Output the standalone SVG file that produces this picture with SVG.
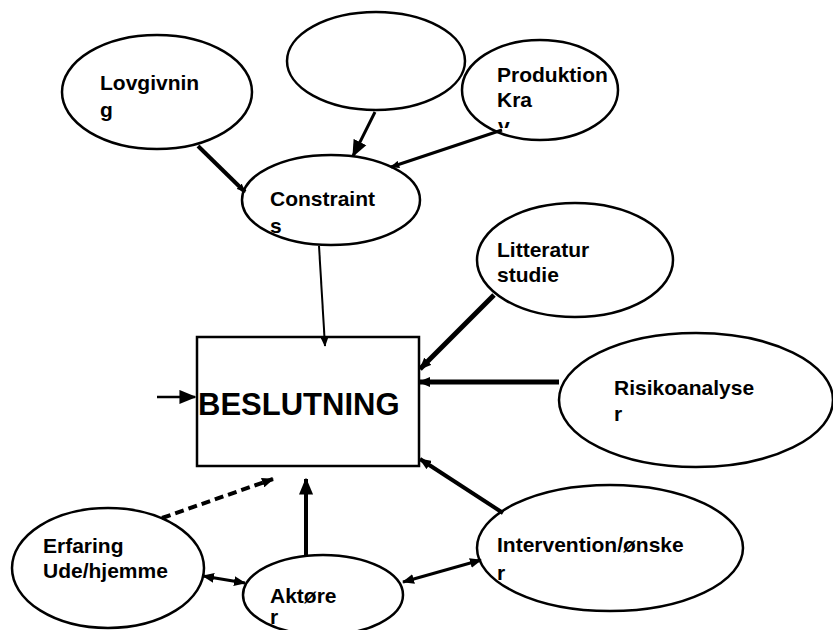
<svg xmlns="http://www.w3.org/2000/svg" width="833" height="630" viewBox="0 0 833 630">
  <style>
    .node { fill: #ffffff; stroke: #000000; stroke-width: 2.5; }
    .lbl { font-family: "Liberation Sans", Arial, sans-serif; font-weight: bold; font-size: 21px; fill: #000000; }
    .big { font-family: "Liberation Sans", Arial, sans-serif; font-weight: bold; font-size: 31px; fill: #000000; }
    .edge { stroke: #000000; fill: none; stroke-linecap: butt; }
  </style>
  <defs>
    <marker id="ah" markerUnits="userSpaceOnUse" viewBox="0 0 12 10" refX="11" refY="5" markerWidth="12" markerHeight="10" orient="auto-start-reverse">
      <path d="M0,0 L12,5 L0,10 z" fill="#000"/>
    </marker>
    <marker id="ahS" markerUnits="userSpaceOnUse" viewBox="0 0 12 10" refX="11" refY="5" markerWidth="9" markerHeight="8" orient="auto-start-reverse">
      <path d="M0,0 L12,5 L0,10 z" fill="#000"/>
    </marker>
    <marker id="ahL" markerUnits="userSpaceOnUse" viewBox="0 0 12 10" refX="11" refY="5" markerWidth="17" markerHeight="15" orient="auto-start-reverse">
      <path d="M0,0 L12,5 L0,10 z" fill="#000"/>
    </marker>
    <clipPath id="clipKrav"><rect x="480" y="60" width="140" height="68"/></clipPath>
  </defs>

  <!-- nodes -->
  <g id="lovgivning">
    <ellipse class="node" cx="157" cy="92" rx="95" ry="57"/>
    <text class="lbl" x="100" y="90">Lovgivnin</text>
    <text class="lbl" x="100" y="117">g</text>
  </g>
  <g id="blank">
    <ellipse class="node" cx="376" cy="61" rx="89" ry="49"/>
  </g>
  <g id="produktion">
    <ellipse class="node" cx="540" cy="90" rx="78" ry="50"/>
    <g clip-path="url(#clipKrav)">
      <text class="lbl" x="497" y="82">Produktion</text>
      <text class="lbl" x="497" y="107">Kra</text>
      <text class="lbl" x="498" y="133">v</text>
    </g>
  </g>
  <g id="constraints">
    <ellipse class="node" cx="331" cy="200" rx="89" ry="45"/>
    <text class="lbl" x="270" y="206">Constraint</text>
    <text class="lbl" x="270" y="233">s</text>
  </g>
  <g id="litteratur">
    <ellipse class="node" cx="575" cy="260" rx="98" ry="57"/>
    <text class="lbl" x="497" y="257">Litteratur</text>
    <text class="lbl" x="497" y="282">studie</text>
  </g>
  <g id="risiko">
    <ellipse class="node" cx="696" cy="400" rx="137" ry="67"/>
    <text class="lbl" x="614" y="395">Risikoanalyse</text>
    <text class="lbl" x="614" y="421">r</text>
  </g>
  <g id="beslutning">
    <rect x="197" y="337" width="222" height="129" fill="#fff" stroke="#000" stroke-width="2.5"/>
    <text class="big" x="198" y="415">BESLUTNING</text>
  </g>
  <g id="erfaring">
    <ellipse class="node" cx="108" cy="568" rx="96" ry="60"/>
    <text class="lbl" x="43" y="553">Erfaring</text>
    <text class="lbl" x="43" y="578">Ude/hjemme</text>
  </g>
  <g id="aktorer">
    <ellipse class="node" cx="323" cy="595" rx="80" ry="40"/>
    <text class="lbl" x="270" y="603">Aktøre</text>
    <text class="lbl" x="270" y="624">r</text>
  </g>
  <g id="intervention">
    <ellipse class="node" cx="610" cy="548" rx="133" ry="63"/>
    <text class="lbl" x="497" y="552">Intervention/ønske</text>
    <text class="lbl" x="497" y="580">r</text>
  </g>

  <!-- connectors -->
  <g id="connectors" class="edge">
    <line class="edge" x1="198" y1="146" x2="245" y2="192" stroke-width="4" marker-end="url(#ahS)"/>
    <line class="edge" x1="375" y1="112" x2="353" y2="156" stroke-width="3" marker-end="url(#ahL)"/>
    <line class="edge" x1="502" y1="130" x2="391" y2="167" stroke-width="3" marker-end="url(#ahS)"/>
    <line class="edge" x1="319" y1="246" x2="325" y2="346" stroke-width="2" marker-end="url(#ahS)"/>
    <line class="edge" x1="494" y1="295" x2="420" y2="369" stroke-width="5" marker-end="url(#ah)"/>
    <line class="edge" x1="559" y1="382" x2="419" y2="382" stroke-width="5" marker-end="url(#ah)"/>
    <line class="edge" x1="503" y1="513" x2="420" y2="459" stroke-width="4" marker-end="url(#ah)"/>
    <line class="edge" x1="306" y1="556" x2="306" y2="479" stroke-width="4" marker-end="url(#ahL)"/>
    <line class="edge" x1="162" y1="518" x2="273" y2="479" stroke-width="4" stroke-dasharray="9 5" marker-end="url(#ah)"/>
    <line class="edge" x1="203" y1="576" x2="245" y2="583" stroke-width="3" marker-start="url(#ah)" marker-end="url(#ah)"/>
    <line class="edge" x1="403" y1="582" x2="481" y2="560" stroke-width="3" marker-start="url(#ah)" marker-end="url(#ah)"/>
    <line class="edge" x1="157" y1="397" x2="195" y2="397" stroke-width="2.5" marker-end="url(#ahL)"/>
  </g>
</svg>
